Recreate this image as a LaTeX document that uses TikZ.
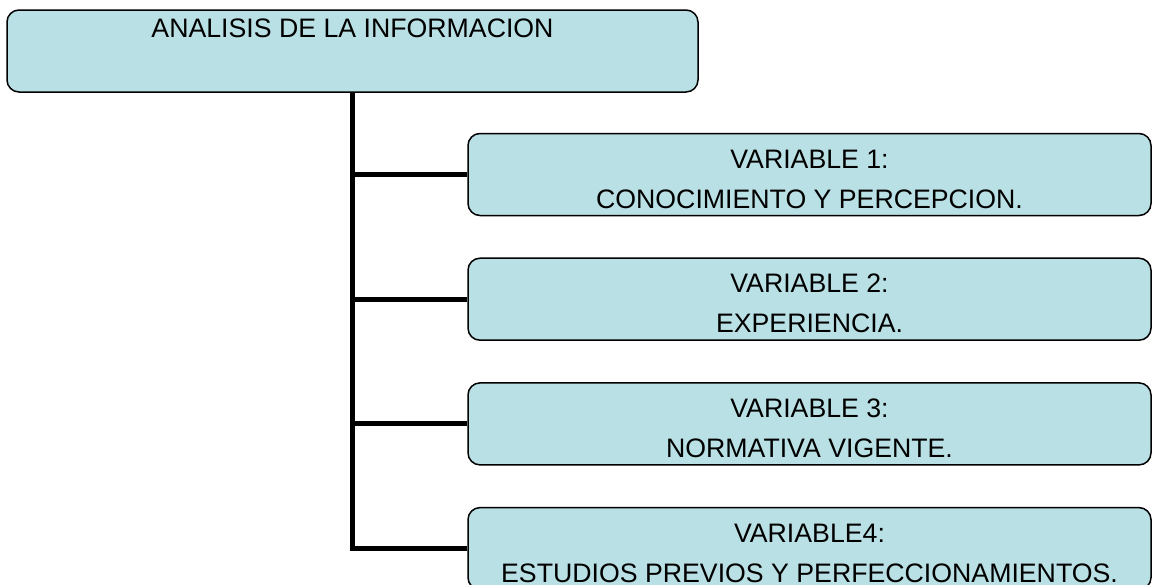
\documentclass[tikz,border=0pt]{standalone}
\usepackage{fontspec}
\setmainfont{Liberation Sans}
\usetikzlibrary{positioning}

\definecolor{boxblue}{RGB}{185,224,228}
\newcommand{\capgap}{\rule{0pt}{27.5pt}}

\begin{document}
\begin{tikzpicture}[x=1pt,y=-1pt,
  every node/.style={font=\fontsize{26.7}{40}\selectfont},
  mainbox/.style={draw=black,line width=1.5pt,fill=boxblue,rounded corners=12pt,
    minimum width=691pt,minimum height=82pt,inner sep=0pt,text depth=46pt},
  varbox/.style={draw=black,line width=1.5pt,fill=boxblue,rounded corners=12pt,
    minimum width=683pt,minimum height=82pt,inner sep=0pt,align=center},
  branch/.style={line width=5pt}]
\useasboundingbox (0,0) rectangle (1153,584);
\node[mainbox] (analisis) at (352.5,51) {ANALISIS DE LA INFORMACION};
\node[varbox] (var1) at (809.5,174.5) {\capgap VARIABLE 1:\\CONOCIMIENTO Y PERCEPCION.};
\node[varbox,below=41.2pt of var1] (var2) {\capgap VARIABLE 2:\\EXPERIENCIA.};
\node[varbox,below=41.2pt of var2] (var3) {\capgap VARIABLE 3:\\NORMATIVA VIGENTE.};
\node[varbox,below=41.2pt of var3] (var4) {\capgap VARIABLE4:\\ESTUDIOS PREVIOS Y PERFECCIONAMIENTOS.};
% trunk and branches
\draw[branch] (analisis.south) |- (var4.west);
\foreach \v in {var1,var2,var3}
  \draw[branch] (analisis.south |- \v.west) -- (\v.west);
\end{tikzpicture}
\end{document}
